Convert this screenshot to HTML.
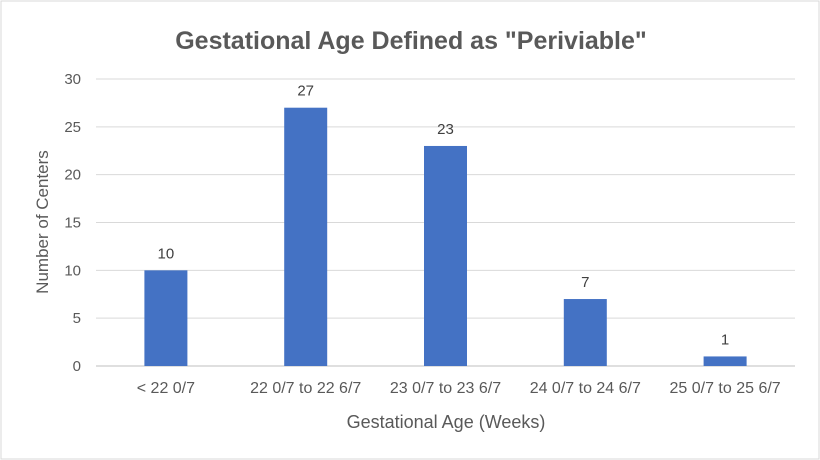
<!DOCTYPE html>
<html><head><meta charset="utf-8"><style>
body{margin:0;background:#fff;}
svg{display:block;font-family:"Liberation Sans",sans-serif;}
</style></head><body>
<svg id="c" width="820" height="460">
<rect x="1" y="1" width="818" height="458" fill="#fff" stroke="#d9d9d9"/>
<text x="411" y="49" text-anchor="middle" font-size="25" font-weight="bold" fill="#595959">Gestational Age Defined as "Periviable"</text>
<text transform="translate(48,222) rotate(-90)" text-anchor="middle" font-size="17" fill="#595959">Number of Centers</text>
<text x="446" y="428" text-anchor="middle" font-size="18" fill="#595959">Gestational Age (Weeks)</text>
<g id="grid"></g><g id="bars"></g><g id="labels"></g>
</svg>
<script>
const categories=["< 22 0/7","22 0/7 to 22 6/7","23 0/7 to 23 6/7","24 0/7 to 24 6/7","25 0/7 to 25 6/7"];
const values=[10,27,23,7,1];
const yTicks=[0,5,10,15,20,25,30];
const x0=96,x1=795,y0=366,y1=79,yMax=30;
const ns="http://www.w3.org/2000/svg";
const bw=(x1-x0)/categories.length;
const yS=v=>y0-(v/yMax)*(y0-y1);
const xC=i=>x0+bw*(i+0.5);
function mk(t,a,p){const e=document.createElementNS(ns,t);for(const k in a)e.setAttribute(k,a[k]);p.appendChild(e);return e;}
const g=document.getElementById('grid'),b=document.getElementById('bars'),l=document.getElementById('labels');
yTicks.forEach(t=>{
 const ln=mk('line',{x1:x0,x2:x1,y1:yS(t),y2:yS(t),stroke:t===0?'#bfbfbf':'#d9d9d9'},g);
 
 
 const tx=mk('text',{x:x0-15,y:yS(t)+5,'text-anchor':'end','font-size':15,fill:'#595959'},g);
 tx.textContent=t;
 
 
});
categories.forEach((c,i)=>{
 const v=values[i];
 const r=mk('rect',{x:xC(i)-21.5,y:yS(v),width:43,height:y0-yS(v),fill:'#4472c4'},b);
 
 
 const vl=mk('text',{x:xC(i),y:yS(v)-12,'text-anchor':'middle','font-size':15,fill:'#404040'},l);
 vl.textContent=v;
 
 
 const cl=mk('text',{x:xC(i),y:393,'text-anchor':'middle','font-size':16,fill:'#595959'},l);
 cl.textContent=c;
 
 
});
</script>
</body></html>
